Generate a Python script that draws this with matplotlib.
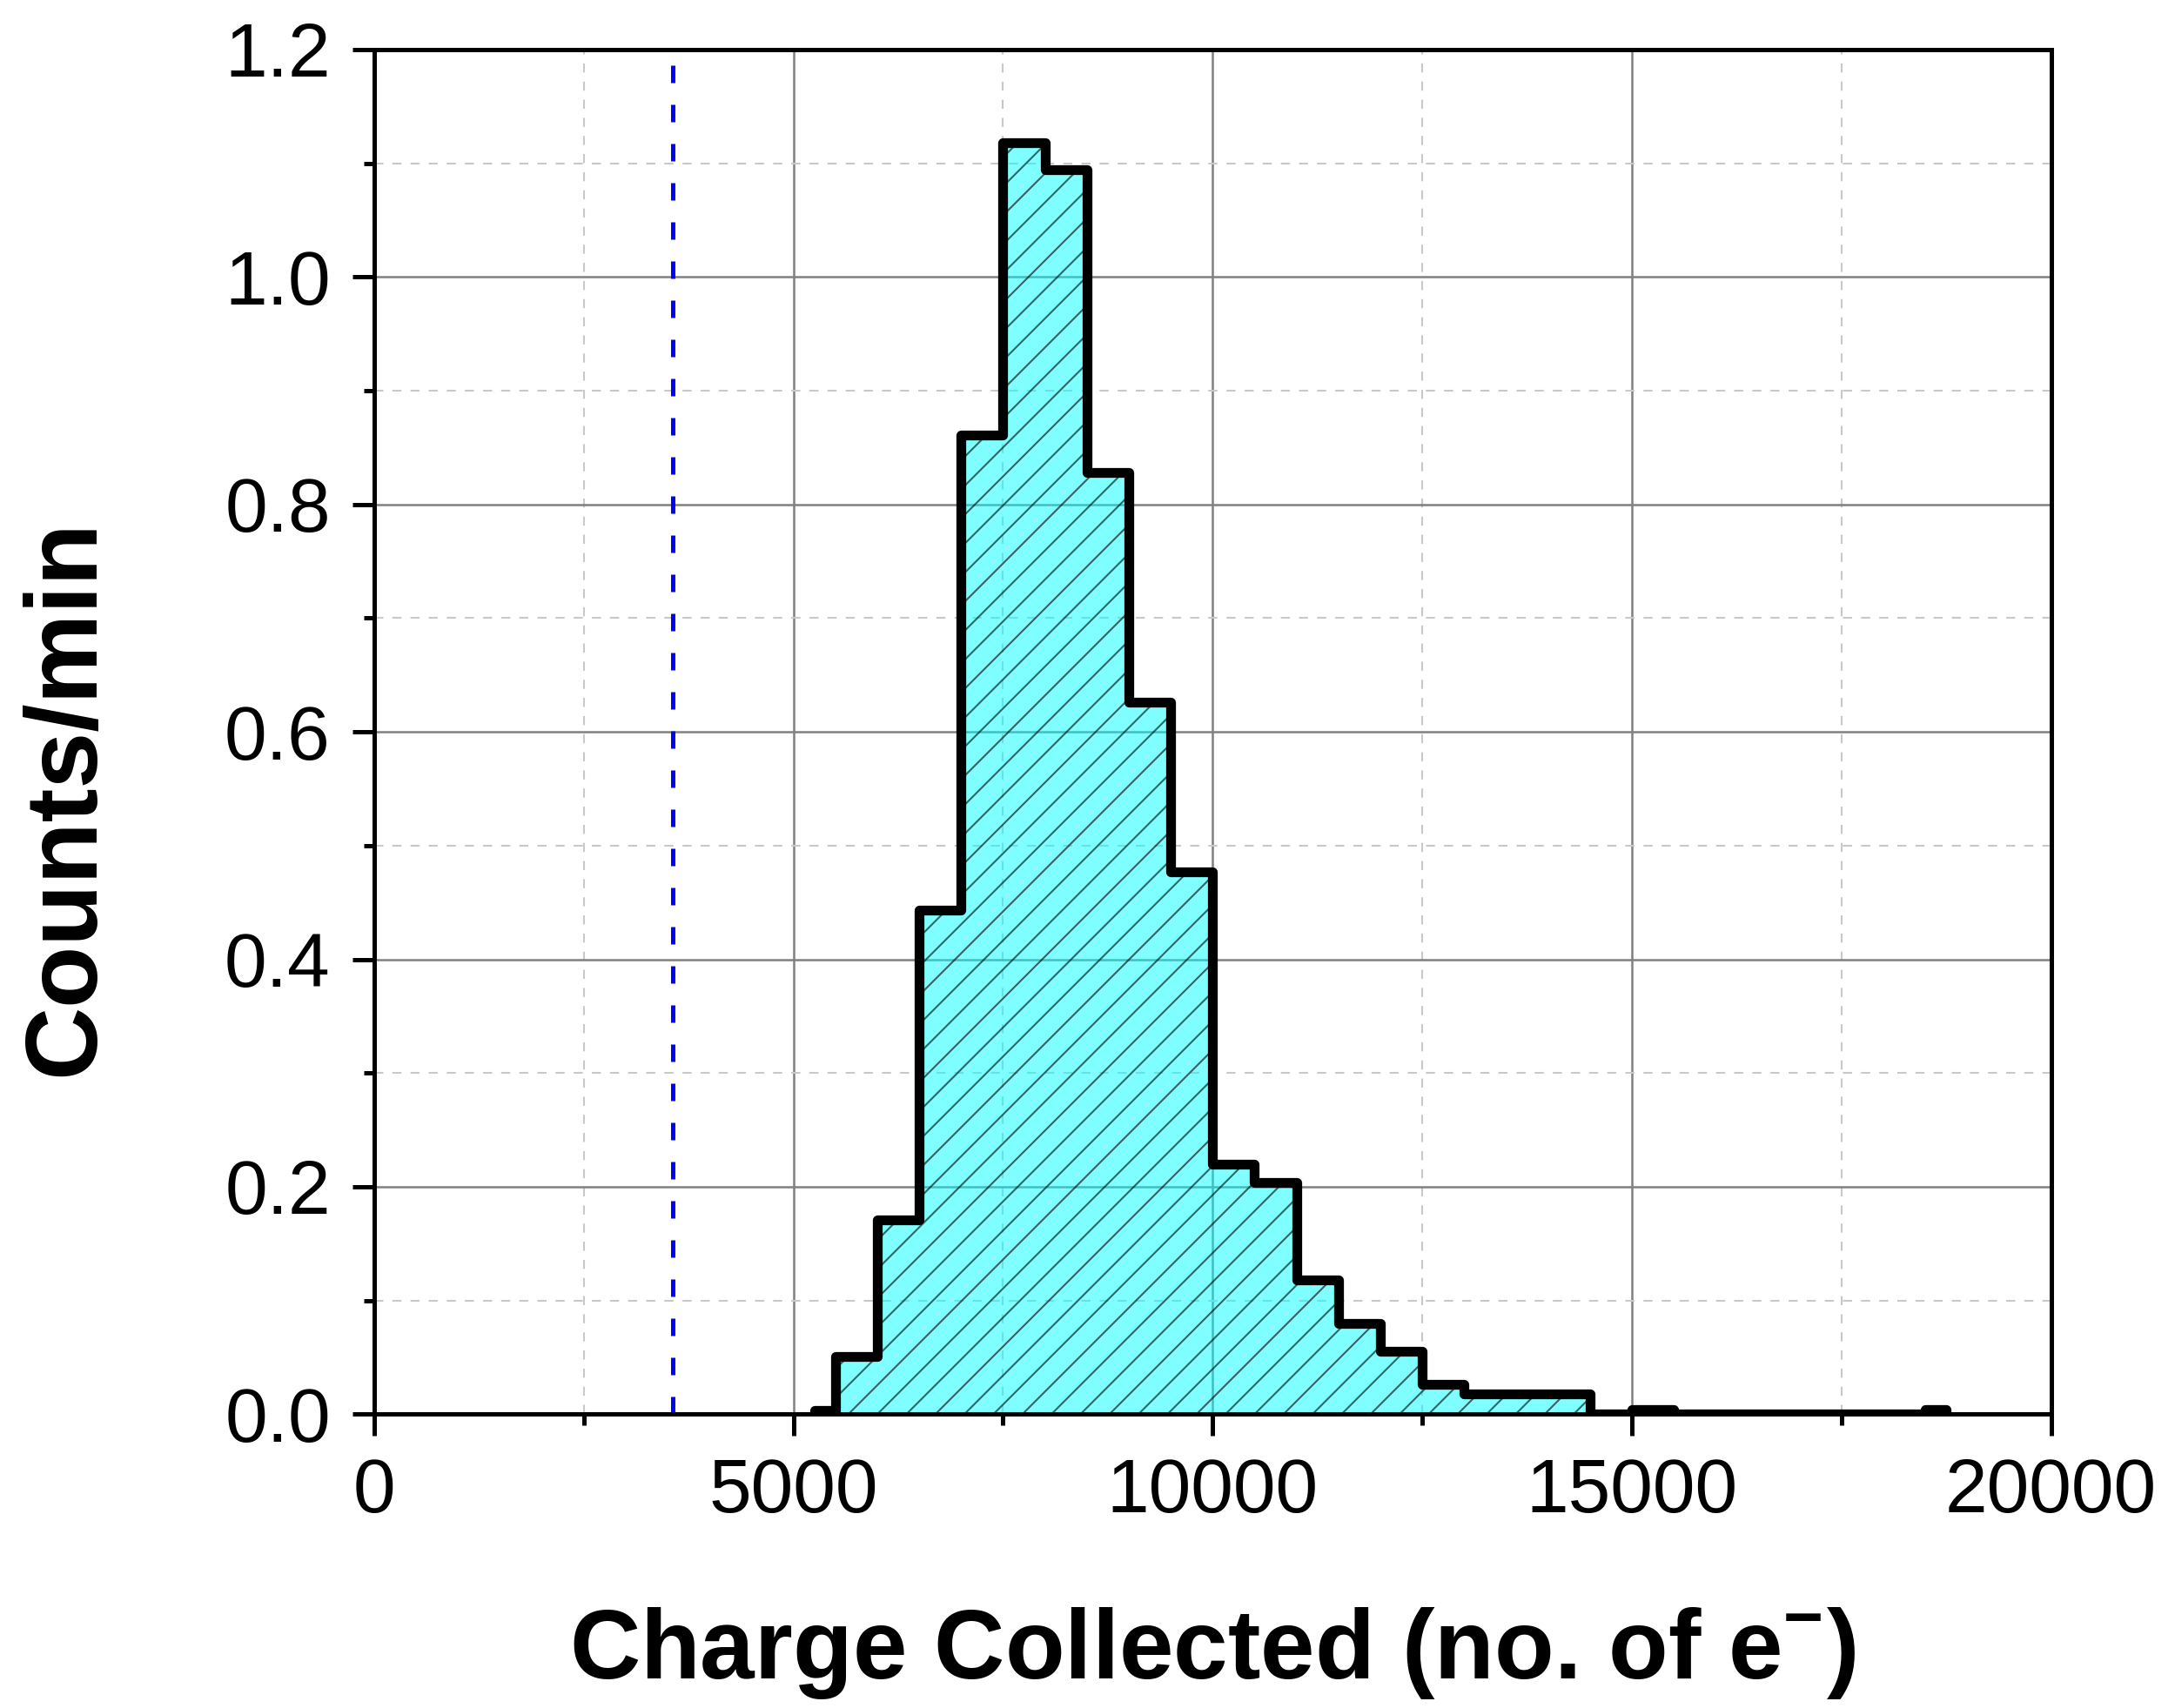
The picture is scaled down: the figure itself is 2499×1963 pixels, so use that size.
import matplotlib
matplotlib.use('Agg')
import matplotlib.pyplot as plt
from matplotlib.ticker import MultipleLocator, FormatStrFormatter

plt.rcParams['font.family'] = ['Liberation Sans', 'DejaVu Sans']
plt.rcParams['mathtext.fontset'] = 'custom'
plt.rcParams['mathtext.rm'] = 'Liberation Sans'
plt.rcParams['mathtext.bf'] = 'Liberation Sans:bold'
plt.rcParams['hatch.linewidth'] = 0.5

# 直方图数据
bin_edges = [5250, 5500, 6000, 6500, 7000, 7500, 8000, 8500, 9000, 9500,
             10000, 10500, 11000, 11500, 12000, 12500, 13000, 13500, 14000,
             14500, 15000, 15500, 16000, 16500, 17000, 17500, 18000, 18500,
             18750]
counts = [0.003, 0.051, 0.171, 0.443, 0.861, 1.118, 1.094, 0.828, 0.626,
          0.477, 0.220, 0.204, 0.118, 0.080, 0.055, 0.026, 0.018, 0.018,
          0.018, 0.0, 0.004, 0.0, 0.0, 0.0, 0.0, 0.0, 0.0, 0.004]
threshold = 3560

fig = plt.figure(figsize=(2499 / 300, 1963 / 300), dpi=300)
ax = fig.add_axes([0.172, 0.172, 0.771, 0.799])

ax.set_xlim(0, 20000)
ax.set_ylim(0, 1.2)
ax.xaxis.set_major_locator(MultipleLocator(5000))
ax.xaxis.set_minor_locator(MultipleLocator(2500))
ax.yaxis.set_major_locator(MultipleLocator(0.2))
ax.yaxis.set_minor_locator(MultipleLocator(0.1))
ax.yaxis.set_major_formatter(FormatStrFormatter('%.1f'))

# 网格
ax.grid(True, which='major', color='#808080', linewidth=0.6, linestyle='-')
ax.grid(True, which='minor', color='#c8c8c8', linewidth=0.5, linestyle=(0, (5, 5)))
ax.set_axisbelow(True)

# 填充 + 阴影线
ax.stairs(counts, bin_edges, fill=True, facecolor=(0, 1, 1, 0.5),
          edgecolor=(0, 0, 0, 0.6), hatch='///', linewidth=0, zorder=2)
# 外轮廓
ax.stairs(counts, bin_edges, fill=False, color='black', linewidth=2.7,
          joinstyle='round', capstyle='round', zorder=3)

# 阈值线
ax.axvline(threshold, color='#0000ff', linewidth=1.2, linestyle=(0, (4, 5)), zorder=4)

for s in ax.spines.values():
    s.set_linewidth(1.2)
    s.set_zorder(5)

ax.tick_params(which='both', direction='out', width=1.2, top=False, right=False,
               labelsize=21, pad=6)
ax.tick_params(which='major', length=6)
ax.tick_params(which='minor', length=3)

ax.set_xlabel(r'Charge Collected (no. of e$^{\mathbf{-}}$)', fontsize=27, fontweight='bold')
ax.set_ylabel('Counts/min', fontsize=28, fontweight='bold')
ax.xaxis.set_label_coords(0.5, -0.14)
ax.yaxis.set_label_coords(-0.155, 0.452)

plt.savefig('out.png', dpi=300)
